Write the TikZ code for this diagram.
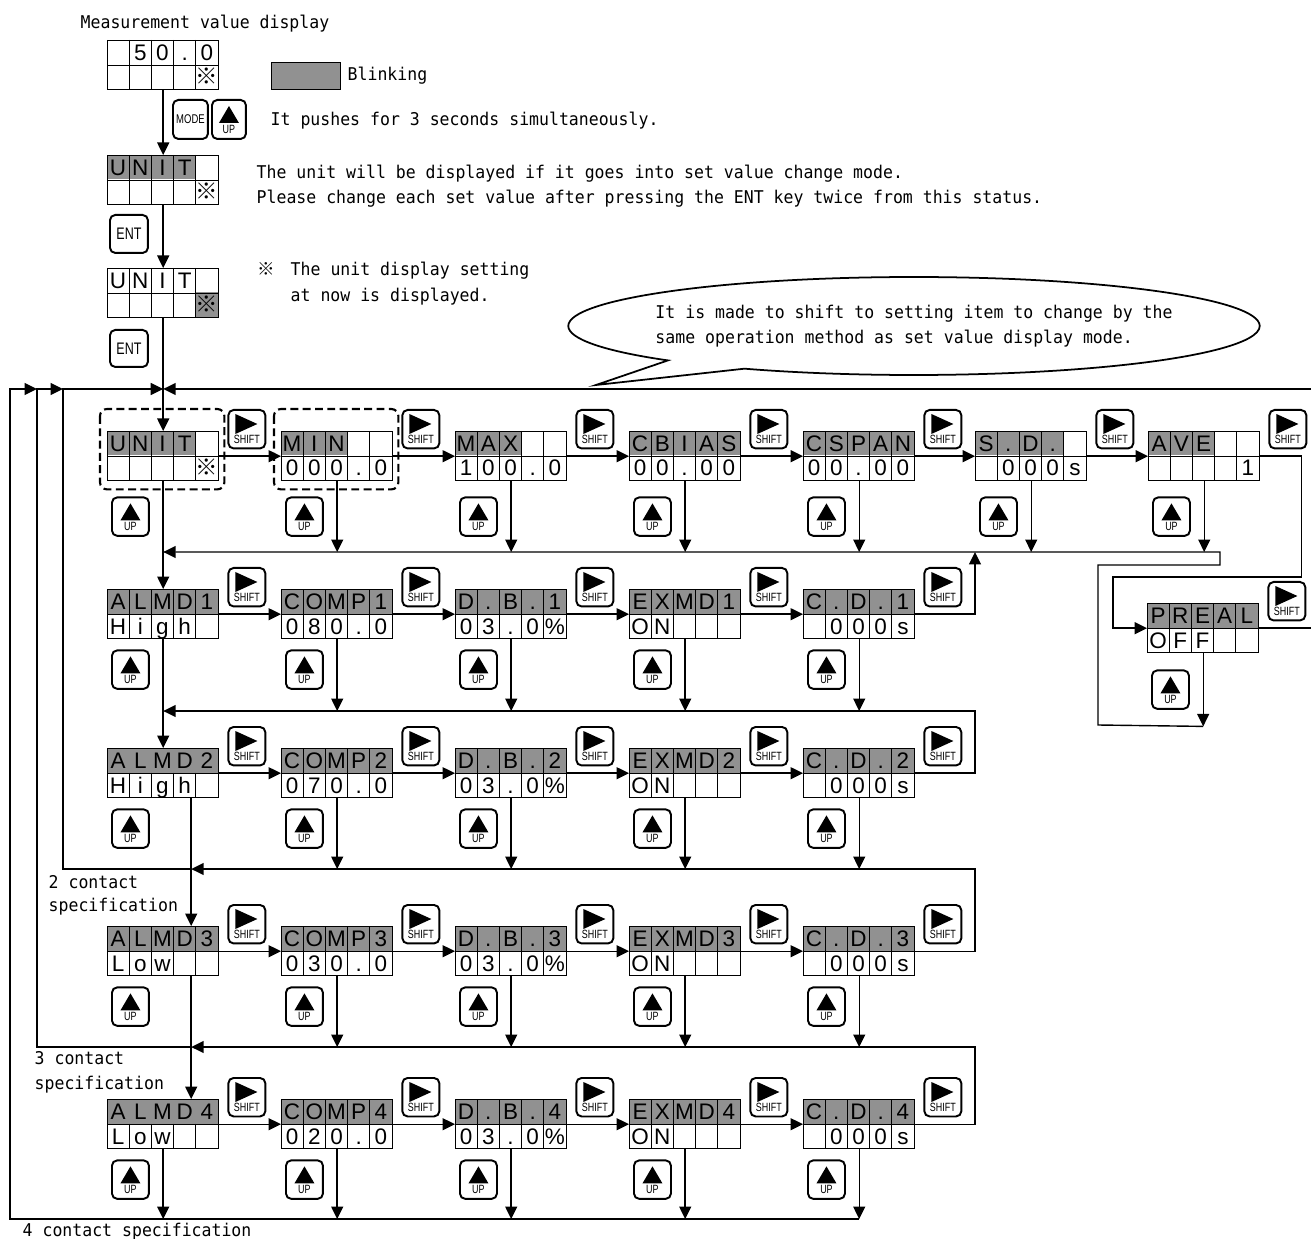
\documentclass[tikz,border=0pt]{standalone}
\usepackage{fontspec}
\usepackage{tikz}
\usetikzlibrary{arrows.meta, calc, shapes.callouts}
\newfontfamily\gothic[FakeStretch=0.94]{DejaVu Sans Mono}
\newfontfamily\segfont{Liberation Sans}
\newfontfamily\keyfont[FakeStretch=0.75]{Liberation Sans}
\newfontfamily\cjk{Noto Sans CJK JP}
\definecolor{blink}{RGB}{145,145,145}
\newcommand{\kome}{{\cjk ※}}

% LCD panel: name, top-left corner, blinking cells, upper row, lower row, start of upper separators
\newcommand{\lcd}[6]{%
  \fill[blink] (#2) rectangle ++(#3*22.2,24.5);
  \node[panel] (#1) at (#2) {};
  \foreach \c [count=\i] in {#4}
    \node[seg] at ($(#1.north west)+(\i*22.2-11.1,20.5)$) {\c};
  \foreach \c [count=\i] in {#5}
    \node[seg] at ($(#1.north west)+(\i*22.2-11.1,45)$) {\c};
  \foreach \k in {1,...,4}
    \draw[sep] ($(#1.north west)+(\k*22.2,#6)$) -- ($(#1.north west)+(\k*22.2,49)$);
  \draw[sep] (#1.west) -- (#1.east);
}
\newcommand{\upmark}[1]{%
  \fill ($(#1.north)+(-10,24)$) -- ++(10,-17) -- ++(10,17) -- cycle;
  \node[keytxt] at ($(#1.north)+(0,30.5)$) {UP};
}
\newcommand{\shiftkey}[1]{%
  \node[key] (#1-sh) at ($(#1.north east)+(8,-22)$) {};
  \fill ($(#1-sh.north west)+(8,5)$) -- ++(22,10) -- ++(-22,10) -- cycle;
  \node[keytxt] at ($(#1-sh.north)+(0,30.5)$) {SHIFT};
}
\newcommand{\upkey}[2][10]{%
  \node[key] (#2-up) at ($(#2.south west)+(4,#1)$) {};
  \upmark{#2-up}
}

\begin{document}
\begin{tikzpicture}[x=0.02cm, y=-0.02cm, line width=0.8pt,
    arr/.style={-{Triangle[length=0.25cm,width=0.24cm]}},
    panel/.style={draw, anchor=north west, inner sep=0pt, minimum width=2.22cm, minimum height=0.98cm},
    sep/.style={line width=0.6pt},
    seg/.style={anchor=base, inner sep=0pt, font=\segfont\fontsize{12.8}{12.8}\selectfont},
    key/.style={draw, line width=1.1pt, rounded corners=3pt, anchor=north west, inner sep=0pt, minimum width=0.74cm, minimum height=0.77cm},
    keytxt/.style={inner sep=0pt, font=\keyfont\fontsize{6.8}{6.8}\selectfont},
    lab/.style={anchor=base west, inner sep=0pt, font=\gothic\fontsize{10}{12}\selectfont},
    focus/.style={line width=1.2pt, rounded corners=4pt, dash pattern=on 4.5pt off 2.5pt},
    bubble/.style={ellipse callout, draw, line width=1pt, minimum width=13.6cm, minimum height=1.96cm,
      callout pointer arc=16, align=left, inner xsep=-8pt, inner ysep=0pt, font=\gothic\fontsize{10}{14.2}\selectfont}]
    \useasboundingbox (0,0) rectangle (1311,1239);

    % entry into set value change mode
    \node[lab] (title) at (80,29) {Measurement value display};
    \lcd{meas}{107,40}{0}{{},5,0,.,0}{{},{},{},{},\kome}{0}
    \node[draw, fill=blink, anchor=north west, inner sep=0pt, minimum width=1.38cm, minimum height=0.54cm] (legend) at (271,62) {};
    \node[lab] (blinklab) at (347,81) {Blinking};
    \node[key, minimum width=0.7cm, minimum height=0.78cm, font=\keyfont\fontsize{7.2}{7.2}\selectfont] (mode) at (172,99) {MODE};
    \node[key, minimum width=0.68cm, minimum height=0.78cm] (upkey) at (211,99) {};
    \upmark{upkey}
    \node[lab] (pushlab) at (270,126) {It pushes for 3 seconds simultaneously.};
    \lcd{unitA}{107,155}{4}{U,N,I,T,{}}{{},{},{},{},\kome}{0}
    \node[lab] (modelab) at (256,179) {The unit will be displayed if it goes into set value change mode.};
    \node[lab] (entlab) at (256,204) {Please change each set value after pressing the ENT key twice from this status.};
    \node[key, minimum width=0.76cm, minimum height=0.76cm, font=\keyfont\fontsize{9.5}{9.5}\selectfont] (ent1) at (109,214) {ENT};
    \fill[blink] (195.8,292.5) rectangle ++(22.2,24.5);
    \lcd{unitB}{107,268}{0}{U,N,I,T,{}}{{},{},{},{},\kome}{0}
    \node[lab] (notelab) at (257,276) {\makebox[18.8pt][l]{\cjk ※}The unit display setting};
    \node[lab] (notelab2) at (290,302) {at now is displayed.};
    \node[key, minimum width=0.76cm, minimum height=0.74cm, font=\keyfont\fontsize{9.5}{9.5}\selectfont] (ent2) at (109,329) {ENT};
    \node[bubble, callout absolute pointer={(596,385)}] (note) at (914,326)
      {It is made to shift to setting item to change by the\\same operation method as set value display mode.};

    % setting items
    \lcd{unit}{107,431}{4}{U,N,I,T,{}}{{},{},{},{},\kome}{0}
    \lcd{vmin}{281,431}{3}{M,I,N,{},{}}{0,0,0,.,0}{0}
    \lcd{vmax}{455,431}{3}{M,A,X,{},{}}{1,0,0,.,0}{0}
    \lcd{cbias}{629,431}{5}{C,B,I,A,S}{0,0,.,0,0}{0}
    \lcd{cspan}{803,431}{5}{C,S,P,A,N}{0,0,.,0,0}{0}
    \lcd{sd}{975,431}{4}{S,.,D,.,{}}{{},0,0,0,s}{0}
    \lcd{ave}{1148,431}{3}{A,V,E,{},{}}{{},{},{},{},1}{0}
    \lcd{preal}{1147,603}{5}{P,R,E,A,L}{O,F,F,{},{}}{0}
    \lcd{almd1}{107,589}{5}{A,L,M,D,1}{H,i,g,h,{}}{0}
    \lcd{comp1}{281,589}{5}{C,O,M,P,1}{0,8,0,.,0}{0}
    \lcd{almd2}{107,748}{5}{A,L,M,D,2}{H,i,g,h,{}}{24.5}
    \lcd{comp2}{281,748}{5}{C,O,M,P,2}{0,7,0,.,0}{0}
    \lcd{almd3}{107,926}{5}{A,L,M,D,3}{L,o,w,{},{}}{0}
    \lcd{comp3}{281,926}{5}{C,O,M,P,3}{0,3,0,.,0}{0}
    \lcd{almd4}{107,1099}{5}{A,L,M,D,4}{L,o,w,{},{}}{24.5}
    \lcd{comp4}{281,1099}{5}{C,O,M,P,4}{0,2,0,.,0}{0}
    \foreach \r/\y in {1/589,2/748,3/926,4/1099} {
      \lcd{db\r}{455,\y}{5}{D,.,B,.,\r}{0,3,.,0,\%}{0}
      \lcd{exmd\r}{629,\y}{5}{E,X,M,D,\r}{O,N,{},{},{}}{0}
      \lcd{cd\r}{803,\y}{5}{C,.,D,.,\r}{{},0,0,0,s}{0}
    }
    \draw[focus] ($(unit.north west)+(-7,-22)$) rectangle ($(unit.south east)+(5,8)$);
    \draw[focus] ($(vmin.north west)+(-7,-22)$) rectangle ($(vmin.south east)+(5,8)$);

    % keys
    \foreach \d in {unit,vmin,vmax,cbias,cspan,sd,ave} {\shiftkey{\d} \upkey[15]{\d}}
    \shiftkey{preal}
    \upkey[16]{preal}
    \foreach \r in {1,...,4}
      \foreach \d in {almd,comp,db,exmd,cd} {\shiftkey{\d\r} \upkey{\d\r}}

    % return lines
    \coordinate (top) at (0,389);
    \coordinate (busA) at (0,552);
    \coordinate (busB) at (0,711);
    \coordinate (busC) at (0,869);
    \coordinate (busD) at (0,1047);
    \coordinate (busE) at (0,1219);
    \coordinate (ret) at (975,0);
    \coordinate (loopA) at (63,0);
    \coordinate (loopB) at (37,0);
    \coordinate (loopC) at (10,0);
    \coordinate (edge) at (1316,0);

    \draw[arr] (meas.south) -- (unitA.north);
    \draw[arr] (unitA.south) -- (unitB.north);
    \draw[arr] (unitB.south) -- (unit.north);

    \foreach \a/\b in {unit/vmin,vmin/vmax,vmax/cbias,cbias/cspan,cspan/sd,sd/ave}
      \draw[arr] (\a.east) -- (\b.west);
    \foreach \r in {1,...,4}
      \foreach \a/\b in {almd/comp,comp/db,db/exmd,exmd/cd}
        \draw[arr] (\a\r.east) -- (\b\r.west);

    \foreach \d in {vmin,vmax,cbias,cspan,sd,ave}
      \draw[arr] (\d.south) -- (\d.south |- busA);
    \foreach \d in {comp1,db1,exmd1,cd1}
      \draw[arr] (\d.south) -- (\d.south |- busB);
    \foreach \d in {comp2,db2,exmd2,cd2}
      \draw[arr] (\d.south) -- (\d.south |- busC);
    \foreach \d in {comp3,db3,exmd3,cd3}
      \draw[arr] (\d.south) -- (\d.south |- busD);
    \foreach \d in {almd4,comp4,db4,exmd4,cd4}
      \draw[arr] (\d.south) -- (\d.south |- busE);

    \draw[arr] (unit.south) -- (almd1.north);
    \draw[arr] (almd1.south) -- (almd2.north);
    \draw[arr] ($(almd2.south)+(28,0)$) -- ($(almd3.north)+(28,0)$);
    \draw[arr] ($(almd3.south)+(28,0)$) -- ($(almd4.north)+(28,0)$);

    \draw[arr] (ave.east) -- ++(41,0) |- (1113,577) |- (preal.west);
    \draw[arr] (preal.south) -- ++(0,73);
    \draw[arr] ($(preal.south)+(0,73)$) -- (1098,725) |- (1220,565) |- (unit.south |- busA);
    \draw[arr] (preal.east) -- (edge |- preal.east) -- (edge |- top) -- (unit.north |- top);

    \draw[arr] (cd1.east) -| (ret |- busA);
    \draw[arr] (cd2.east) -| (ret |- busB) -- (almd1.south |- busB);
    \draw[arr] (cd3.east) -| (ret |- busC) -- ($(almd2.south |- busC)+(28,0)$);
    \draw[arr] (cd4.east) -| (ret |- busD) -- ($(almd3.south |- busD)+(28,0)$);
    \draw[arr] ($(almd2.south |- busC)+(28,0)$) -- (loopA |- busC) -- (loopA |- top) -- (unit.north |- top);
    \draw[arr] ($(almd3.south |- busD)+(28,0)$) -- (loopB |- busD) -- (loopB |- top) -- (loopA |- top);
    \draw[arr] (cd4.south |- busE) -- (loopC |- busE) -- (loopC |- top) -- (loopB |- top);

    \node[lab] (spec2a) at (48,888) {2 contact};
    \node[lab] (spec2b) at (48,911) {specification};
    \node[lab] (spec3a) at (34,1064) {3 contact};
    \node[lab] (spec3b) at (34,1089) {specification};
    \node[lab] (spec4) at (22,1236) {4 contact specification};
\end{tikzpicture}
\end{document}
